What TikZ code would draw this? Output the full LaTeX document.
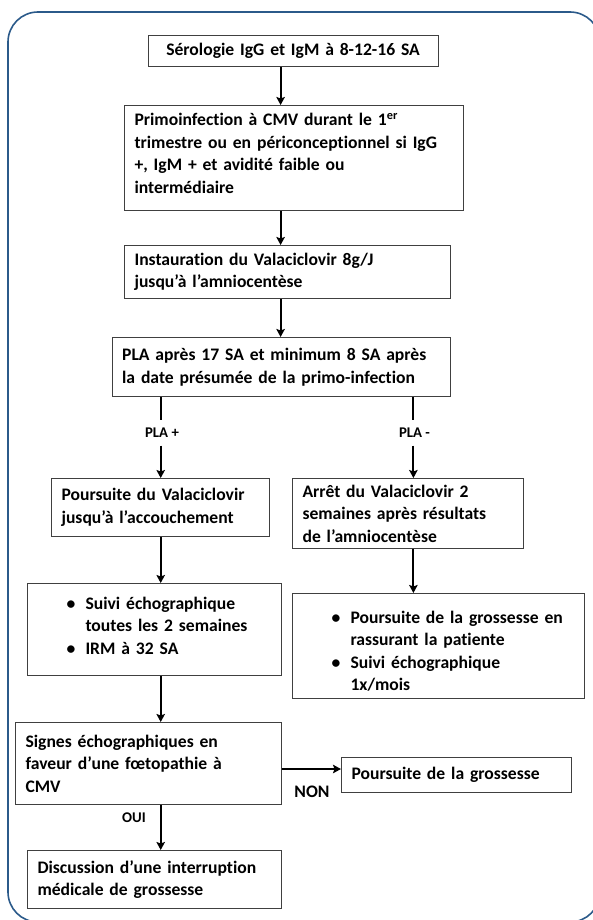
\documentclass[tikz,border=0pt]{standalone}
\usepackage{fontspec}
\setmainfont{Carlito}[Ligatures=NoCommon]
\usepackage{tikz}
\usetikzlibrary{arrows.meta}

\definecolor{Cadre}{HTML}{2B5A8A}
\definecolor{Bord}{HTML}{404040}

\newcommand{\puce}[1]{\par\noindent\hangindent=48pt\hangafter=1\hspace*{29pt}\makebox[19pt][l]{\textbullet}#1\par}

\begin{document}
\begin{tikzpicture}[x=1pt, y=-1pt]
		\tikzstyle{Box}		= [rectangle, draw=Bord, line width=1.1pt, anchor=north west, align=left, inner xsep=10pt, inner ysep=0pt, font=\bfseries\fontsize{17.6}{22.5}\selectfont]
		\tikzstyle{Label}	= [inner sep=0pt, font=\bfseries\fontsize{14.8}{18}\selectfont]
		\tikzstyle{Ligne}	= [line width=2pt, black]
		\tikzstyle{Fleche}	= [Ligne, -{Stealth[length=8pt, width=8.5pt, inset=1.5pt]}]
		
		\clip (0,0) rectangle (593,920);
		\draw [Cadre, line width=1.6pt, rounded corners=30pt] (8,12) rectangle (600,922);
		
		\coordinate (axe) at (280.6,0);
		\coordinate (gauche) at (160.7,0);
		\coordinate (droite) at (413.4,0);
		\coordinate (non) at (0,769);
		
		\node (b1) at (147.5,35) [Box, text width=270pt, minimum height=31pt, align=center] {Sérologie IgG et IgM à 8-12-16 SA};
		\node (b2) at (124,105) [Box, text width=319pt, minimum height=105pt, text depth=77pt] {Primoinfection à CMV durant le 1\textsuperscript{er}\\ trimestre ou en périconceptionnel si IgG\\ +, IgM + et avidité faible ou\\ intermédiaire};
		\node (b3) at (124,245) [Box, text width=306pt, minimum height=53pt] {Instauration du Valaciclovir 8g/J\\ jusqu’à l’amniocentèse};
		\node (b4) at (111.6,337) [Box, text width=318.5pt, minimum height=59pt] {PLA après 17 SA et minimum 8 SA après\\ la date présumée de la primo-infection};
		\node (b5) at (51,478) [Box, text width=197.5pt, minimum height=58pt] {Poursuite du Valaciclovir\\ jusqu’à l’accouchement};
		\node (b6) at (292,478) [Box, text width=211pt, minimum height=70pt] {Arrêt du Valaciclovir 2\\ semaines après résultats\\ de l’amniocentèse};
		\node (b7) at (27,583) [Box, text width=233.6pt, minimum height=92pt, text depth=86pt] {\puce{Suivi échographique\newline toutes les 2 semaines}\puce{IRM à 32 SA}};
		\node (b8) at (292,593) [Box, text width=271.6pt, minimum height=105pt] {\puce{Poursuite de la grossesse en\newline rassurant la patiente}\puce{Suivi échographique\newline 1x/mois}};
		\node (b9) at (15,722) [Box, text width=245.6pt, minimum height=82pt] {Signes échographiques en\\ faveur d’une fœtopathie à\\ CMV};
		\node (b10) at (341,757) [Box, text width=210pt, minimum height=35pt] {Poursuite de la grossesse};
		\node (b11) at (27,850) [Box, text width=233.6pt, minimum height=58pt] {Discussion d’une interruption\\ médicale de grossesse};
		
		\node (plus) at (162,433) [Label, minimum height=25pt] {PLA +};
		\node (moins) at (414.5,433) [Label, minimum height=25pt] {PLA -};
		\node (nonlbl) at (312,792) [Label, font=\bfseries\fontsize{17.6}{22.5}\selectfont] {NON};
		\node (oui) at (134,818) [Label] {OUI};
		
		\draw [Fleche] (b1.south -| axe) to (b2.north -| axe);
		\draw [Fleche] (b2.south -| axe) to (b3.north -| axe);
		\draw [Fleche] (b3.south -| axe) to (b4.north -| axe);
		\draw [Ligne] (b4.south -| gauche) to (plus.north -| gauche);
		\draw [Fleche] (plus.south -| gauche) to (b5.north -| gauche);
		\draw [Ligne] (b4.south -| droite) to (moins.north -| droite);
		\draw [Fleche] (moins.south -| droite) to (b6.north -| droite);
		\draw [Fleche] (b5.south -| gauche) to (b7.north -| gauche);
		\draw [Fleche] (b6.south -| droite) to (b8.north -| droite);
		\draw [Fleche] (b7.south -| gauche) to (b9.north -| gauche);
		\draw [Fleche] (b9.east |- non) to (b10.west |- non);
		\draw [Fleche] (b9.south -| gauche) to (b11.north -| gauche);
	\end{tikzpicture}
\end{document}
